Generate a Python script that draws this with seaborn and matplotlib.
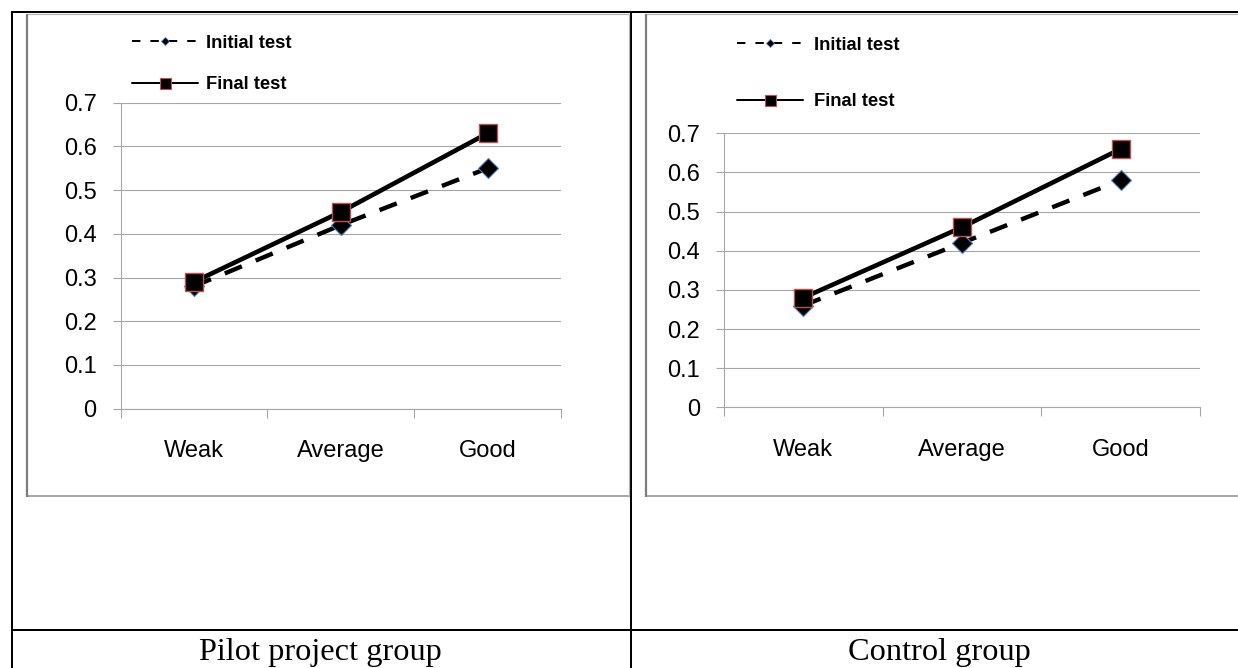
import matplotlib
matplotlib.use("Agg")
import matplotlib.pyplot as plt
from matplotlib.lines import Line2D
from matplotlib.ticker import NullFormatter
import pandas as pd
import seaborn as sns

# ---- data -------------------------------------------------------------
levels = ["Weak", "Average", "Good"]
pilot_initial = [0.28, 0.42, 0.55]
pilot_final = [0.29, 0.45, 0.63]
control_initial = [0.26, 0.42, 0.58]
control_final = [0.28, 0.46, 0.66]
y_ticks = [0, 0.1, 0.2, 0.3, 0.4, 0.5, 0.6, 0.7]
series_names = ["Initial test", "Final test"]
group_names = ["Pilot project group", "Control group"]

# ---- canvas -----------------------------------------------------------
W, H, DPI = 1238, 668, 100
sns.set_theme(style="white")
plt.rcParams["font.family"] = ["Liberation Sans", "DejaVu Sans"]
plt.rcParams["text.color"] = "black"
plt.rcParams["legend.labelcolor"] = "black"

fig = plt.figure(figsize=(W / DPI, H / DPI), dpi=DPI)
fig.patch.set_facecolor("white")

GRID = "#a6a6a6"
RED_EDGE = "#c0504d"
BLUE_EDGE = "#4f81bd"
PX = 72 / DPI  # points per pixel


def fx(x):
    return x / W


def fy(y):
    return 1 - y / H


def px_box(x0, y0, x1, y1):
    """Pixel box (top-left origin) to a figure-fraction [left, bottom, w, h]."""
    return [x0 / W, 1 - y1 / H, (x1 - x0) / W, (y1 - y0) / H]


def seg(x0, y0, x1, y1, color="black", width_px=2.0):
    fig.add_artist(Line2D([fx(x0), fx(x1)], [fy(y0), fy(y1)],
                          transform=fig.transFigure, color=color,
                          lw=width_px * PX, solid_capstyle="butt"))


# ---- table grid and chart frames --------------------------------------
seg(10.5, 11.5, W, 11.5)          # table top
seg(11.5, 10.5, 11.5, H)          # table left
seg(630.5, 11, 630.5, H)          # column divider
seg(11, 630, W, 630)              # caption row divider

for x_left, x_right in [(26.5, 628.5), (645.5, W + 5)]:
    seg(x_left, 13.5, x_right, 13.5, color="#b4b4b4", width_px=1.2)
    seg(x_left, 495.5, x_right, 495.5, color="#a0a0a0", width_px=1.8)
    seg(x_left, 13.5, x_left, 496.5, color="#7c7c7c", width_px=2.2)
    if x_right < W:
        seg(x_right, 13.5, x_right, 496.5, color="#b4b4b4", width_px=1.2)


# ---- one panel --------------------------------------------------------
def draw_panel(box, initial, final, legend_xy, legend_spacing, text_pad):
    ax = fig.add_axes(px_box(*box))
    ax.set_facecolor("none")

    df_initial = pd.DataFrame({"level": levels, "value": initial})
    df_final = pd.DataFrame({"level": levels, "value": final})

    sns.lineplot(data=df_initial, x="level", y="value", sort=False, ax=ax,
                 color="black", linewidth=4.4 * PX,
                 linestyle=(0, (4.2, 3.4)),
                 marker="D", markersize=14.5 * PX,
                 markerfacecolor="black", markeredgecolor=BLUE_EDGE,
                 markeredgewidth=0.8, clip_on=False, zorder=3)
    sns.lineplot(data=df_final, x="level", y="value", sort=False, ax=ax,
                 color="black", linewidth=4.6 * PX,
                 marker="s", markersize=18.5 * PX,
                 markerfacecolor="black", markeredgecolor=RED_EDGE,
                 markeredgewidth=1.0, clip_on=False, zorder=4)

    ax.set_xlabel("")
    ax.set_ylabel("")
    ax.set_xlim(-0.5, len(levels) - 0.5)
    ax.set_ylim(0, 0.7)

    # y axis: gridlines that continue out as short ticks
    ax.set_yticks(y_ticks)
    ax.set_yticklabels([f"{v:g}" for v in y_ticks])
    ax.yaxis.grid(True, color=GRID, linewidth=1.1 * PX)
    ax.xaxis.grid(False)
    ax.tick_params(axis="y", length=8 * PX, width=1.1 * PX, color=GRID,
                   pad=11.5, labelsize=17, labelcolor="black", left=True)

    # x axis: ticks on category boundaries, labels at category centres
    bounds = [i - 0.5 for i in range(len(levels) + 1)]
    ax.set_xticks(bounds)
    ax.xaxis.set_major_formatter(NullFormatter())
    ax.set_xticks(range(len(levels)), minor=True)
    ax.set_xticklabels(levels, minor=True)
    ax.tick_params(axis="x", which="major", length=8.5 * PX, width=1.1 * PX,
                   color=GRID, bottom=True, direction="out")
    ax.tick_params(axis="x", which="minor", length=0, pad=22.5,
                   labelsize=17, labelcolor="black")

    for side in ("top", "right"):
        ax.spines[side].set_visible(False)
    for side in ("left", "bottom"):
        ax.spines[side].set_color(GRID)
        ax.spines[side].set_linewidth(1.1 * PX)

    handles = [
        Line2D([], [], color="black", lw=2.0 * PX, linestyle=(0, (4.2, 5.0)),
               marker="D", markersize=6 * PX, markerfacecolor="black",
               markeredgecolor=BLUE_EDGE, markeredgewidth=0.6),
        Line2D([], [], color="black", lw=2.0 * PX,
               marker="s", markersize=11 * PX, markerfacecolor="black",
               markeredgecolor=RED_EDGE, markeredgewidth=0.8),
    ]
    ax.legend(handles, series_names, loc="upper left",
              bbox_to_anchor=(fx(legend_xy[0]), fy(legend_xy[1])),
              bbox_transform=fig.transFigure, frameon=False,
              borderpad=0, borderaxespad=0, handlelength=3.6,
              handletextpad=text_pad, labelspacing=legend_spacing,
              labelcolor="black",
              prop={"weight": "bold", "size": 13.2})
    return ax


draw_panel((120.5, 102.7, 561, 408.7), pilot_initial, pilot_final,
           (132, 34.5), 1.36, 0.45)
draw_panel((724, 133.3, 1200, 407.3), control_initial, control_final,
           (737, 36.5), 2.17, 0.62)

# ---- captions ---------------------------------------------------------
serif = ["Liberation Serif", "DejaVu Serif"]
fig.text(fx(320.5), fy(660), group_names[0], ha="center", va="baseline",
         fontsize=23.3, family=serif, color="black")
fig.text(fx(939), fy(660), group_names[1], ha="center", va="baseline",
         fontsize=23.3, family=serif, color="black")

fig.savefig("out.png", dpi=DPI, facecolor="white")
